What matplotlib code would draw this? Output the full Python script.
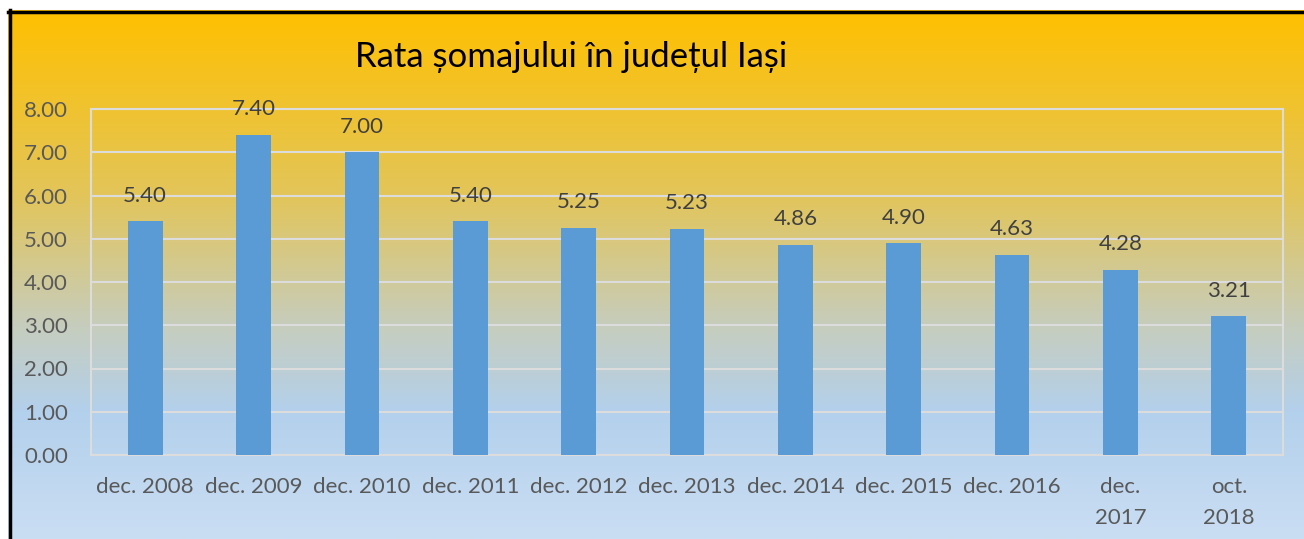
import numpy as np
import matplotlib.pyplot as plt
from matplotlib.colors import LinearSegmentedColormap

categories = ["dec. 2008", "dec. 2009", "dec. 2010", "dec. 2011", "dec. 2012",
              "dec. 2013", "dec. 2014", "dec. 2015", "dec. 2016",
              "dec.\n2017", "oct.\n2018"]
rates = [5.40, 7.40, 7.00, 5.40, 5.25, 5.23, 4.86, 4.90, 4.63, 4.28, 3.21]
value_labels = ["5.40", "7.40", "7.00", "5.40", "5.25", "5.23", "4.86", "4.90", "4.63", "4.28", "3.21"]
y_ticks = [0, 1, 2, 3, 4, 5, 6, 7, 8]

plt.rcParams['font.family'] = ['Lato', 'DejaVu Sans']

W, H = 1304, 539
fig = plt.figure(figsize=(W / 100, H / 100), dpi=100)
fig.patch.set_facecolor('white')

# gradient background of the chart frame
frame_left, frame_top = 8 / W, 1 - 10 / H
bg = fig.add_axes([frame_left, 0, 1 - frame_left, frame_top])
cmap = LinearSegmentedColormap.from_list(
    'bg', [(0.0, '#FFC000'), (0.35, '#E2C55A'), (0.60, '#C6CDBE'),
           (0.76, '#B3D0EC'), (1.0, '#CADEF3')])
grad = np.linspace(0, 1, 256).reshape(-1, 1)
bg.imshow(grad, aspect='auto', cmap=cmap, extent=[0, 1, 0, 1], origin='upper')
bg.set_xlim(0, 1)
bg.set_ylim(0, 1)
bg.axis('off')
bg.plot([0.0015, 0.0015], [0, 1], color='black', lw=2.5, clip_on=False)
bg.plot([0, 1], [0.997, 0.997], color='black', lw=2.5, clip_on=False)

ax = fig.add_axes([91 / W, 1 - 455 / H, (1283 - 91) / W, (455 - 109) / H])
ax.patch.set_alpha(0)
x = np.arange(len(categories))
ax.bar(x, rates, width=0.32, color='#5B9BD5', zorder=3)
for xi, v, lab in zip(x, rates, value_labels):
    ax.text(xi, v + 0.36, lab, ha='center', va='bottom', fontsize=16, color='#404040')

ax.set_xlim(-0.5, len(categories) - 0.5)
ax.set_ylim(0, 8)
ax.set_yticks(y_ticks)
ax.set_yticklabels([f"{t:.2f}" for t in y_ticks])
ax.set_xticks(x)
ax.set_xticklabels(categories, linespacing=1.65, va='top')
ax.tick_params(axis='both', length=0, labelsize=16, labelcolor='#595959')
ax.tick_params(axis='x', pad=16)
ax.tick_params(axis='y', pad=16.5)
ax.grid(axis='y', color='#DCDCDC', lw=1.5, zorder=0)
for s in ax.spines.values():
    s.set_color('#DCDCDC')
    s.set_linewidth(1.5)

fig.text(571 / W, 1 - 57 / H, "Rata șomajului în județul Iași", ha='center', va='center',
         fontsize=25, color='black')

fig.savefig('out.png', dpi=100)
